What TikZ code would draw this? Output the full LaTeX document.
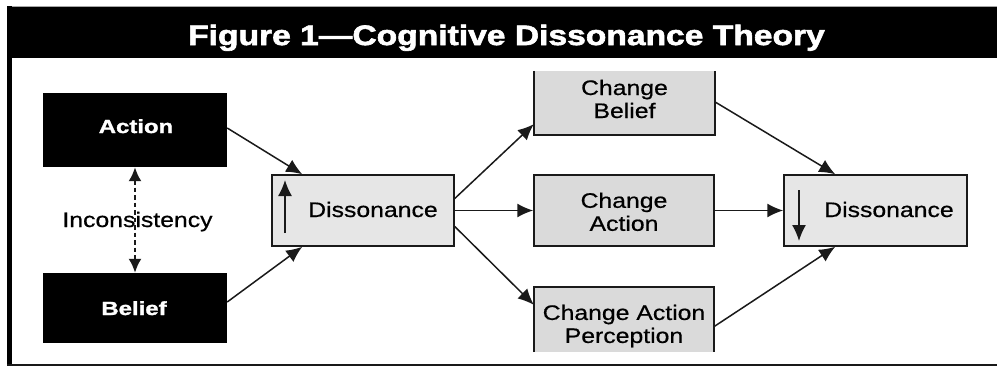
\documentclass[tikz,border=0pt]{standalone}
\usepackage{fontspec}
\usetikzlibrary{arrows.meta,calc}
\newfontfamily\labfont{Liberation Sans}[FakeStretch=1.18, FakeBold=0.6]
\newfontfamily\ttlfont{Liberation Sans}[FakeStretch=1.2, FakeBold=2.2]
\newfontfamily\blkfont{Liberation Sans}[FakeStretch=1.26, FakeBold=1.5]
\definecolor{boxgray}{HTML}{DADADA}
\definecolor{dissgray}{HTML}{E6E6E6}
\definecolor{edge}{HTML}{1A1A1A}
\tikzset{
  blackbox/.style={fill=black, draw=none, inner sep=0pt},
  dissbox/.style={fill=dissgray, draw=edge, line width=1.5pt, inner sep=0pt},
  chgbox/.style={fill=boxgray, draw=none, inner sep=0pt},
  chgedge/.style={draw=edge, line width=1.5pt},
  lbl/.style={font=\labfont\fontsize{21}{23}\selectfont, text=black, inner sep=0pt},
  blk/.style={font=\blkfont\bfseries\fontsize{19}{22}\selectfont, text=white, inner sep=0pt},
  arr/.style={draw=edge, line width=1.5pt, -{Latex[length=16pt,width=14pt]}},
  darr/.style={draw=edge, line width=2.2pt, dash pattern=on 4.5pt off 3pt,
    {Latex[length=14pt,width=13pt]}-{Latex[length=14pt,width=13pt]}},
}
\begin{document}
\begin{tikzpicture}[x=1pt,y=-1pt]
\useasboundingbox (0,0) rectangle (997,367);
\fill[white] (0,0) rectangle (997,367);
% frame
\fill[black] (8,7) rectangle (997,58);
\draw[gray!70, line width=0.8pt] (8,6) -- (997,6);
\fill[black] (7,6) rectangle (12,366);
\fill[gray!20!black] (7,363.5) rectangle (997,366);
\node[anchor=base, text=white, inner sep=0pt,
  font=\ttlfont\bfseries\fontsize{28}{32}\selectfont] (title) at (506.5,45)
  {Figure 1—Cognitive Dissonance Theory};

% left column
\node[blackbox, minimum width=184pt, minimum height=74pt] (act) at (135,130) {};
\node[blackbox, minimum width=184pt, minimum height=70pt] (bel) at (135,308) {};
\node[blk, anchor=base] (actt) at (136,133) {Action};
\node[blk, anchor=base] (belt) at (134,315) {Belief};
\node[lbl, anchor=base] (inc) at (137.5,227) {Inconsistency};
\draw[darr] (act.south) -- (bel.north);

% dissonance boxes
\node[dissbox, minimum width=182pt, minimum height=71pt] (d1) at (363,210.5) {};
\node[lbl, anchor=base] (d1t) at (373,217) {Dissonance};
\coordinate (u1) at (285,233);
\coordinate (u2) at (285,180);
\draw[arr] (u1) -- (u2);

\node[dissbox, minimum width=183pt, minimum height=71pt] (d2) at (875.5,210.5) {};
\node[lbl, anchor=base] (d2t) at (889,217) {Dissonance};
\coordinate (w1) at (799,190);
\coordinate (w2) at (799,241);
\draw[arr] (w1) -- (w2);

% change boxes
\node[chgbox, minimum width=181pt, minimum height=64pt] (cb) at (624.5,103) {};
\draw[chgedge] (cb.north west) |- (cb.south east) -- (cb.north east);
\node[lbl, align=center] (cbt) at ([yshift=4pt]cb.center) {Change\\Belief};

\node[chgbox, draw=edge, line width=1.5pt, minimum width=180pt, minimum height=71pt] (ca) at (624,210.5) {};
\node[lbl, align=center] (cat) at ([yshift=-1.3pt]ca.center) {Change\\Action};

\node[chgbox, minimum width=180pt, minimum height=65pt] (cap) at (624,319.5) {};
\draw[chgedge] (cap.south west) |- (cap.north east) -- (cap.south east);
\node[lbl, align=center] (capt) at ([yshift=-6.5pt]cap.center) {Change Action\\Perception};

% connectors
\draw[arr] ([yshift=2pt]act.east) -- ([xshift=31pt]d1.north west);
\draw[arr] ([yshift=6pt]bel.east) -- ([xshift=31pt]d1.south west);
\draw[arr] ([yshift=12pt]d1.east) -- ([yshift=11pt]cb.south west);
\draw[arr] (d1.east) -- (ca.west);
\draw[arr] ([yshift=-16pt]d1.east) -- ([yshift=-18pt]cap.north west);
\draw[arr] ([yshift=1pt]cb.east) -- ([xshift=52pt]d2.north west);
\draw[arr] (ca.east) -- (d2.west);
\draw[arr] ([yshift=-7pt]cap.east) -- ([xshift=52pt]d2.south west);
\end{tikzpicture}
\end{document}
